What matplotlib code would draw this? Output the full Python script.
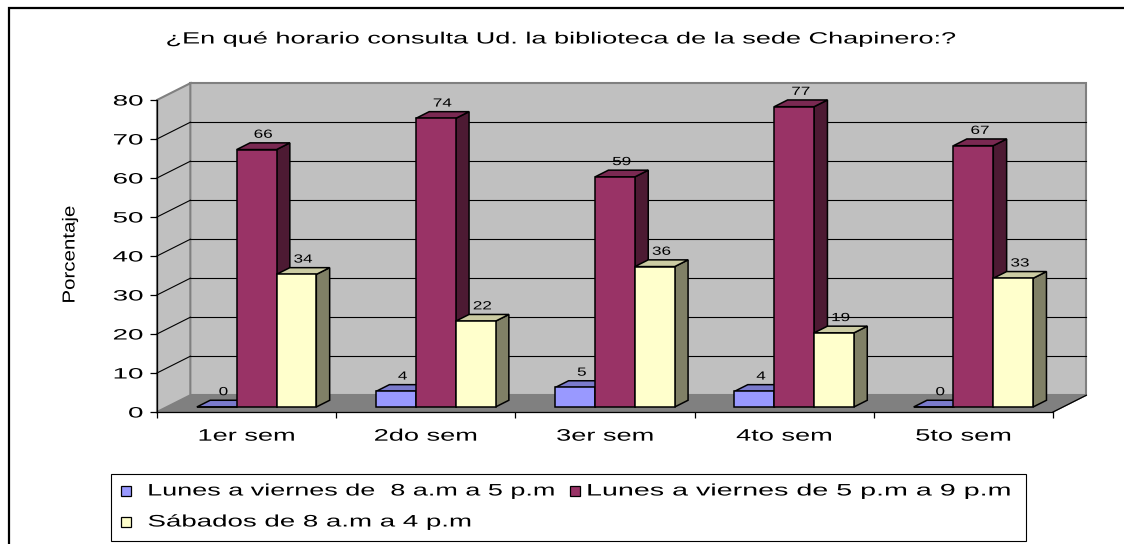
import matplotlib
matplotlib.use("Agg")
import matplotlib.pyplot as plt
from matplotlib.patches import Polygon, Rectangle
from matplotlib.patheffects import AbstractPathEffect
from matplotlib.transforms import Affine2D
from matplotlib.ticker import FixedLocator

# ---- data -------------------------------------------------------------
categories = ["1er sem", "2do sem", "3er sem", "4to sem", "5to sem"]
series_names = [
    "Lunes a viernes de  8 a.m a 5 p.m",
    "Lunes a viernes de 5 p.m a 9 p.m",
    "Sábados de 8 a.m a 4 p.m",
]
weekday_morning = [0, 4, 5, 4, 0]
weekday_evening = [66, 74, 59, 77, 67]
saturday = [34, 22, 36, 19, 33]
y_ticks = [0, 10, 20, 30, 40, 50, 60, 70, 80]
title = "¿En qué horario consulta Ud. la biblioteca de la sede Chapinero:?"
y_label = "Porcentaje"

series_values = [weekday_morning, weekday_evening, saturday]

# face colours: front, top, side
front_colors = ["#9999FF", "#993366", "#FFFFCC"]
top_colors = ["#7A7ACC", "#7A2952", "#CCCCA3"]
side_colors = ["#4D4D80", "#4D1A33", "#808066"]

FONT = "Liberation Sans"
W_PX, H_PX = 1124, 544


class Stretch(AbstractPathEffect):
    """Scale the glyph outlines of a text around an anchor of their extent."""

    def __init__(self, sx=1.0, sy=1.0, anchor="center"):
        super().__init__()
        self.sx, self.sy, self.anchor = sx, sy, anchor

    def draw_path(self, renderer, gc, tpath, affine, rgbFace=None):
        ext = tpath.get_extents(affine)
        if self.anchor == "left":
            cx = ext.x0
        elif self.anchor == "right":
            cx = ext.x1
        else:
            cx = 0.5 * (ext.x0 + ext.x1)
        cy = 0.5 * (ext.y0 + ext.y1)
        t = affine + Affine2D().translate(-cx, -cy).scale(self.sx, self.sy).translate(cx, cy)
        renderer.draw_path(gc, tpath, t, rgbFace)


def fx(x):
    return x / W_PX


def fy(y):
    return 1 - y / H_PX


fig = plt.figure(figsize=(W_PX / 100, H_PX / 100), dpi=100)
fig.patch.set_facecolor("white")

# plot area: front axis box
ax_l, ax_r, ax_t, ax_b = 157, 1053, 100, 412
ax = fig.add_axes([fx(ax_l), fy(ax_b), fx(ax_r - ax_l), (ax_b - ax_t) / H_PX])
ax.set_xlim(-0.5, len(categories) - 0.5)
ax.set_ylim(0, 80)
ax.patch.set_visible(False)
for s in ("top", "right"):
    ax.spines[s].set_visible(False)
ax.spines["left"].set_color("black")
ax.spines["bottom"].set_color("black")
ax.spines["left"].set_linewidth(0.9)
ax.spines["bottom"].set_linewidth(0.9)

# depth of the 3-D box in data units
DX = 0.186
DY = 4.3
x0, x1 = -0.5, len(categories) - 0.5
ytop = 80

wall_gray = "#C0C0C0"
edge_gray = "#808080"

# floor
ax.add_patch(Polygon([(x0, 0), (x1, 0), (x1 + DX, DY), (x0 + DX, DY)],
                     closed=True, facecolor="#808080", edgecolor=edge_gray,
                     lw=1.0, zorder=1, clip_on=False))
# back wall
ax.add_patch(Polygon([(x0 + DX, DY), (x1 + DX, DY), (x1 + DX, ytop + DY), (x0 + DX, ytop + DY)],
                     closed=True, facecolor=wall_gray, edgecolor=edge_gray,
                     lw=1.5, zorder=1, clip_on=False))
# side wall
ax.add_patch(Polygon([(x0, 0), (x0 + DX, DY), (x0 + DX, ytop + DY), (x0, ytop)],
                     closed=True, facecolor=wall_gray, edgecolor=edge_gray,
                     lw=1.5, zorder=1, clip_on=False))
# gridlines on both walls
for v in y_ticks[1:-1]:
    ax.plot([x0 + DX, x1 + DX], [v + DY, v + DY], color="black", lw=0.8,
            zorder=1.5, clip_on=False)
    ax.plot([x0, x0 + DX], [v, v + DY], color="black", lw=0.8,
            zorder=1.5, clip_on=False)
# right edge of the floor
ax.plot([x1, x1 + DX], [0, DY], color="black", lw=0.9, zorder=1.6, clip_on=False)

# ---- bars ---------------------------------------------------------------
n_series = len(series_values)
bar_w = 1.0 / (n_series + 1.5)
f0, f1 = 0.3, 0.7
for ci in range(len(categories)):
    for si, vals in enumerate(series_values):
        v = vals[ci]
        xl = ci + (si - n_series / 2) * bar_w
        xr = xl + bar_w
        ax0, ay0 = f0 * DX, f0 * DY
        ax1, ay1 = f1 * DX, f1 * DY
        side = [(xr + ax0, ay0), (xr + ax1, ay1), (xr + ax1, v + ay1), (xr + ax0, v + ay0)]
        top = [(xl + ax0, v + ay0), (xr + ax0, v + ay0), (xr + ax1, v + ay1), (xl + ax1, v + ay1)]
        front = [(xl + ax0, ay0), (xr + ax0, ay0), (xr + ax0, v + ay0), (xl + ax0, v + ay0)]
        z = 3 + ci * 0.1 + si * 0.01
        for pts, col in ((side, side_colors[si]), (top, top_colors[si]), (front, front_colors[si])):
            ax.add_patch(Polygon(pts, closed=True, facecolor=col, edgecolor="black",
                                 lw=1.1, joinstyle="miter", zorder=z, clip_on=False))
        t = ax.annotate(str(v), xy=(0.5 * (xl + xr) + 0.5 * (ax0 + ax1), v + ay1),
                        xytext=(0, 1.5), textcoords="offset points",
                        ha="center", va="bottom", fontsize=8.5, family=FONT,
                        color="black", zorder=10, annotation_clip=False)
        t.set_path_effects([Stretch(sx=1.45)])

# ---- axes ticks ---------------------------------------------------------
ax.yaxis.set_major_locator(FixedLocator(y_ticks))
ax.set_yticklabels([str(v) for v in y_ticks], family=FONT, fontsize=10.8)
ax.tick_params(axis="y", direction="out", length=5, width=0.9, pad=5, colors="black")
for lbl in ax.get_yticklabels():
    lbl.set_path_effects([Stretch(sx=1.85, anchor="right")])

ax.set_xticks(range(len(categories)))
ax.set_xticklabels(categories, family=FONT, fontsize=12)
ax.xaxis.set_minor_locator(FixedLocator([i - 0.5 for i in range(len(categories) + 1)]))
ax.tick_params(axis="x", which="major", length=0, pad=12)
ax.tick_params(axis="x", which="minor", direction="out", length=4, width=0.9, colors="black")
for lbl in ax.get_xticklabels():
    lbl.set_path_effects([Stretch(sx=1.63)])

# ---- titles ---------------------------------------------------------------
tt = fig.text(fx(562), fy(43.5), title, ha="center", va="baseline",
              fontsize=11.75, family=FONT, color="black")
tt.set_path_effects([Stretch(sx=1.66)])

yl = fig.text(fx(70), fy(254.5), y_label, rotation=90, ha="center", va="center",
              fontsize=12.5, family=FONT, color="black")
yl.set_path_effects([Stretch(sy=1.18)])

# ---- legend ---------------------------------------------------------------
fig.patches.append(Rectangle((fx(111), fy(541)), fx(1026 - 111), (541 - 474) / H_PX,
                             transform=fig.transFigure, facecolor="none",
                             edgecolor="black", lw=0.8, zorder=5))
# (swatch left, row centre, text left, glyph stretch)
legend_items = [
    (121, 491, 148, 1.62),
    (570, 491, 587, 1.72),
    (121, 522, 148, 1.66),
]
for si, (sx_px, cy_px, tx_px, stretch) in enumerate(legend_items):
    fig.patches.append(Rectangle((fx(sx_px), fy(cy_px + 5)), fx(10), 10 / H_PX,
                                 transform=fig.transFigure, facecolor=front_colors[si],
                                 edgecolor="black", lw=0.9, zorder=6))
    lt = fig.text(fx(tx_px), fy(cy_px), series_names[si], ha="left", va="center",
                  fontsize=12, family=FONT, color="black")
    lt.set_path_effects([Stretch(sx=stretch, anchor="left")])

# outer frame of the chart
fig.patches.append(Rectangle((fx(9), fy(570)), fx(1160 - 9), (570 - 8) / H_PX,
                             transform=fig.transFigure, facecolor="none",
                             edgecolor="black", lw=1.6, zorder=7))

fig.savefig("out.png", dpi=100, facecolor="white")
